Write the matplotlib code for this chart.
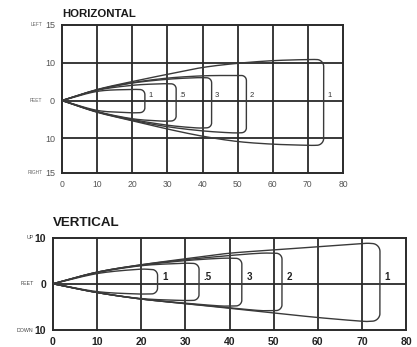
import numpy as np
import matplotlib
matplotlib.use("Agg")
import matplotlib.pyplot as plt

plt.rcParams['font.family'] = ['Liberation Sans', 'DejaVu Sans']

# ---------------- data ----------------
dist_ticks = [0, 10, 20, 30, 40, 50, 60, 70, 80]

# HORIZONTAL pattern (feet, left positive / right negative)
h_labels = ["1", ".5", "3", "2", "1"]
h_ranges = [23.6, 32.5, 42.6, 52.5, 74.5]
h_dist = [[0, 10, 19], [0, 10, 20, 28], [0, 10, 20, 30, 38],
          [0, 10, 20, 30, 40, 48], [0, 10, 20, 30, 40, 50, 60, 70]]
h_left = [[0, 2.4, 2.9], [0, 2.7, 4.0, 4.4], [0, 2.8, 4.6, 5.6, 6.0],
          [0, 2.8, 4.7, 5.9, 6.5, 6.6], [0, 2.9, 5.0, 6.9, 8.7, 9.8, 10.5, 10.8]]
h_right = [[0, -2.6, -3.2], [0, -2.9, -4.8, -5.4], [0, -3.0, -5.0, -6.5, -7.2],
           [0, -3.0, -5.2, -6.9, -8.0, -8.5], [0, -3.1, -5.3, -7.5, -9.4, -10.8, -11.5, -11.8]]
h_ytick_vals = [-19.1, -10, 0, 10, 19.9]
h_ytick_nums = ["15", "10", "0", "10", "15"]
h_ytick_words = ["RIGHT", "", "FEET", "", "LEFT"]

# VERTICAL pattern (feet, up positive / down negative)
v_labels = ["1", ".5", "3", "2", "1"]
v_ranges = [23.7, 33.1, 42.8, 51.9, 74.1]
v_dist = [[0, 10, 19], [0, 10, 20, 29], [0, 10, 20, 30, 38],
          [0, 10, 20, 30, 40, 47], [0, 10, 20, 30, 40, 50, 60, 70]]
v_up = [[0, 2.2, 3.1], [0, 2.4, 3.9, 4.4], [0, 2.5, 4.0, 5.0, 5.5],
        [0, 2.5, 4.1, 5.2, 6.1, 6.6], [0, 2.5, 4.1, 5.4, 6.6, 7.3, 8.0, 8.7]]
v_down = [[0, -1.7, -2.2], [0, -1.9, -3.2, -3.6], [0, -1.9, -3.3, -4.2, -4.8],
          [0, -1.9, -3.3, -4.3, -5.2, -5.8], [0, -1.9, -3.3, -4.3, -5.3, -6.3, -7.3, -8.1]]
v_ytick_vals = [-10, 0, 10]
v_ytick_nums = ["10", "0", "10"]
v_ytick_words = ["DOWN", "FEET", "UP"]

GRID = '#2a2a2a'
LINE = '#3a3a3a'


def catmull(xs, ys, n=24):
    pts = np.column_stack([xs, ys]).astype(float)
    p = np.vstack([pts[0] - (pts[1] - pts[0]), pts, pts[-1] + (pts[-1] - pts[-2])])
    out = []
    t = np.linspace(0, 1, n, endpoint=False)[:, None]
    for i in range(1, len(p) - 2):
        p0, p1, p2, p3 = p[i - 1], p[i], p[i + 1], p[i + 2]
        seg = 0.5 * ((2 * p1) + (-p0 + p2) * t + (2 * p0 - 5 * p1 + 4 * p2 - p3) * t ** 2
                     + (-p0 + 3 * p1 - 3 * p2 + p3) * t ** 3)
        out.append(seg)
    out.append(pts[-1:])
    return np.vstack(out)


def envelope(ax, xs, top, bot, end, r_px, sx, sy):
    rx, ry = r_px / sx, r_px / sy
    xt = list(xs) + [end - rx]
    top_c = catmull(xt, list(top) + [top[-1]])
    bot_c = catmull(xt, list(bot) + [bot[-1]])
    a = np.linspace(np.pi / 2, 0, 12)
    c1 = np.column_stack([end - rx + rx * np.cos(a), top[-1] - ry + ry * np.sin(a)])
    a2 = np.linspace(0, -np.pi / 2, 12)
    c2 = np.column_stack([end - rx + rx * np.cos(a2), bot[-1] + ry + ry * np.sin(a2)])
    path = np.vstack([top_c, c1, c2, bot_c[::-1]])
    ax.plot(path[:, 0], path[:, 1], color=LINE, lw=1.0, solid_joinstyle='round', zorder=3)


def setup(ax, ylim, hgrid, xfs, xcolor, xweight):
    ax.set_xlim(0, 80)
    ax.set_ylim(*ylim)
    for s in ax.spines.values():
        s.set_color(GRID)
        s.set_linewidth(1.4)
    for xv in dist_ticks[1:-1]:
        ax.axvline(xv, color=GRID, lw=1.3, zorder=1)
    for yv in hgrid:
        ax.axhline(yv, color=GRID, lw=1.3, zorder=1)
    ax.set_xticks(dist_ticks)
    ax.set_xticklabels([str(v) for v in dist_ticks], fontsize=xfs, color=xcolor,
                       fontweight=xweight)
    ax.tick_params(length=0, pad=5)


fig = plt.figure(figsize=(4.17, 3.47), dpi=100)
W, H = 417, 347

# ---- top (horizontal) ----
ax1 = fig.add_axes([62 / W, 1 - 173 / H, 281 / W, 148 / H])
setup(ax1, (-19.1, 19.9), [-10, 0, 10], 6.2, '#555555', 'normal')
ax1.set_yticks(h_ytick_vals)
ax1.set_yticklabels(h_ytick_nums, fontsize=6.5, color='#555555')
for yv, w in zip(h_ytick_vals, h_ytick_words):
    if w:
        ax1.annotate(w, xy=(0, yv), xycoords=('axes fraction', 'data'),
                     xytext=(-14, 0), textcoords='offset points', ha='right',
                     va='center', fontsize=3.5, color='#666666')
sx1 = 281 / 80
sy1 = 148 / 39.0
for i in range(5):
    r = 7 if i == 4 else 5
    envelope(ax1, h_dist[i], h_left[i], h_right[i], h_ranges[i], r, sx1, sy1)
    ax1.text(h_ranges[i] + 1.0, 0.3, h_labels[i], fontsize=5.5, color='#333333',
             ha='left', va='bottom', zorder=4)
fig.text(62 / W, 1 - 14 / H, "HORIZONTAL", fontsize=8.2, fontweight='bold',
         ha='left', va='center', color='#1a1a1a')

# ---- bottom (vertical) ----
ax2 = fig.add_axes([53 / W, 1 - 330 / H, 353 / W, 92.5 / H])
setup(ax2, (-10, 10), [0], 7.5, '#222222', 'bold')
ax2.set_yticks(v_ytick_vals)
ax2.set_yticklabels(v_ytick_nums, fontsize=7.5, color='#222222', fontweight='bold')
for yv, w in zip(v_ytick_vals, v_ytick_words):
    ax2.annotate(w, xy=(0, yv), xycoords=('axes fraction', 'data'),
                 xytext=(-14, 0), textcoords='offset points', ha='right',
                 va='center', fontsize=3.8, color='#444444')
sx2 = 353 / 80
sy2 = 92.5 / 20
for i in range(5):
    r = 8 if i == 4 else 6
    envelope(ax2, v_dist[i], v_up[i], v_down[i], v_ranges[i], r, sx2, sy2)
    ax2.text(v_ranges[i] + 1.0, 0.4, v_labels[i], fontsize=7, fontweight='bold',
             color='#222222', ha='left', va='bottom', zorder=4)
fig.text(53 / W, 1 - 222.5 / H, "VERTICAL", fontsize=9.6, fontweight='bold',
         ha='left', va='center', color='#1a1a1a')

fig.savefig("out.png", dpi=100, facecolor='white')
